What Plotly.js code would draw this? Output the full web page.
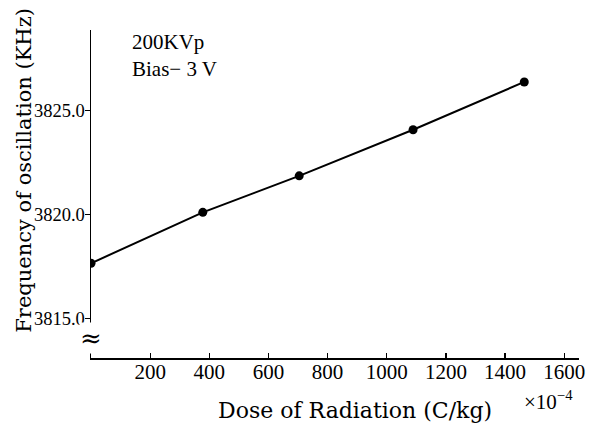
<!DOCTYPE html>
<html>
<head>
<meta charset="utf-8">
<script src="https://cdn.plot.ly/plotly-3.0.1.min.js"></script>
<style>
  html, body { margin: 0; padding: 0; background: #fff; }
  #chart { width: 591px; height: 430px; }
</style>
</head>
<body>
<div id="chart"></div>
<script>
// Data
const dose = [0, 378, 704, 1089, 1465];               // Dose of Radiation (C/kg) ×10^-4
const frequency = [3817.66, 3820.1, 3821.85, 3824.06, 3826.35]; // KHz
const xTickVals = [200, 400, 600, 800, 1000, 1200, 1400, 1600];
const yTickVals = [3815, 3820, 3825];
const xTitle = "Dose of Radiation (C/kg)";
const yTitle = "Frequency of oscillation (KHz)";

const serif = "Liberation Serif, Times New Roman, serif";
const wideSerif = "DejaVu Serif, serif";

const trace = {
  x: dose,
  y: frequency,
  type: "scatter",
  mode: "lines+markers",
  line: { color: "#000", width: 2 },
  marker: { color: "#000", size: 9 },
  showlegend: false,
  hoverinfo: "x+y"
};

const layout = {
  width: 591,
  height: 430,
  margin: { l: 91, r: 12, t: 30, b: 72 },
  paper_bgcolor: "#fff",
  plot_bgcolor: "#fff",
  showlegend: false,
  xaxis: {
    range: [0, 1650],
    tickvals: xTickVals,
    ticktext: xTickVals.map(String),
    ticks: "inside",
    ticklen: 5,
    tickwidth: 1.2,
    tickcolor: "#000",
    ticklabelstandoff: -6,
    showline: true,
    linecolor: "#000",
    linewidth: 1.5,
    showgrid: false,
    zeroline: false,
    tickfont: { family: serif, size: 21, color: "#000" }
  },
  yaxis: {
    range: [3813.12, 3828.84],
    tickvals: yTickVals,
    tickformat: ".1f",
    ticks: "outside",
    ticklen: 5,
    tickwidth: 1.2,
    tickcolor: "#000",
    ticklabelstandoff: -4,
    showline: true,
    linecolor: "#000",
    linewidth: 1.5,
    showgrid: false,
    zeroline: false,
    tickfont: { family: serif, size: 18.5, color: "#000" }
  },
  annotations: [
    {
      xref: "paper", yref: "paper", x: 0.54, y: -0.159,
      xanchor: "center", yanchor: "middle",
      text: xTitle,
      showarrow: false,
      font: { family: wideSerif, size: 22, color: "#000" }
    },
    {
      xref: "paper", yref: "paper", x: -0.138, y: 0.573,
      xanchor: "center", yanchor: "middle",
      textangle: -90,
      text: yTitle,
      showarrow: false,
      font: { family: wideSerif, size: 21, color: "#000" }
    },
    {
      xref: "paper", yref: "paper", x: 0.08, y: 1.005,
      xanchor: "left", yanchor: "top", align: "left",
      text: "200KVp<br>Bias\u2212 3 V",
      showarrow: false,
      font: { family: serif, size: 21, color: "#000" }
    },
    {
      xref: "paper", yref: "paper", x: 0.937, y: -0.13,
      xanchor: "center", yanchor: "middle",
      text: "\u00d710<sup>\u22124</sup>",
      showarrow: false,
      font: { family: serif, size: 21, color: "#000" }
    },
    {
      xref: "paper", yref: "paper", x: 0, y: 0.061,
      xanchor: "center", yanchor: "middle",
      text: "\u2248",
      showarrow: false,
      bgcolor: "#fff",
      borderpad: 0,
      font: { family: wideSerif, size: 26, color: "#000" }
    }
  ]
};

Plotly.newPlot("chart", [trace], layout, { displayModeBar: false, staticPlot: true });
</script>
</body>
</html>
